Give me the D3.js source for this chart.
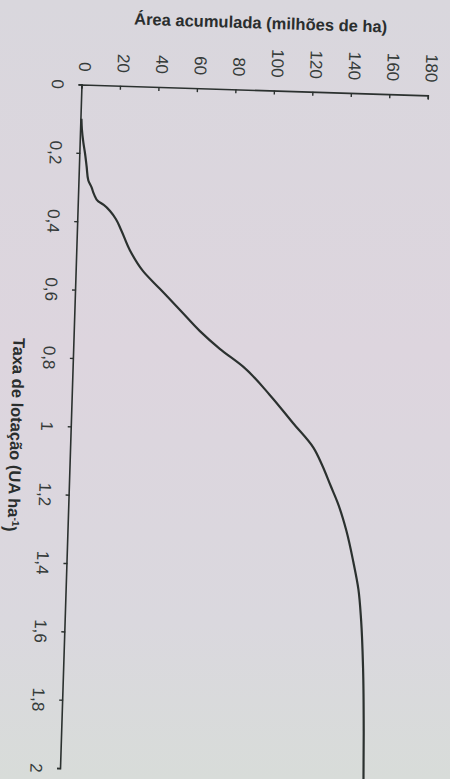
<!DOCTYPE html>
<html>
<head>
<meta charset="utf-8">
<script src="https://cdn.jsdelivr.net/npm/d3@7"></script>
<style>
  html, body { margin: 0; padding: 0; background: #dcd7de; }
  svg { display: block; }
  text { font-family: "Liberation Sans", Arial, sans-serif; }
</style>
</head>
<body>
<svg id="chart" width="450" height="779"></svg>
<script>
// ---- data ----
const taxa = [0.10, 0.13, 0.17, 0.20, 0.24, 0.28, 0.30, 0.32, 0.34, 0.35, 0.37, 0.39, 0.42, 0.48, 0.54, 0.59, 0.65, 0.71, 0.76, 0.81, 0.89, 0.97, 1.04, 1.09, 1.15, 1.20, 1.28, 1.37, 1.45, 1.54, 1.68, 1.87, 2.02];
const area = [0, 0.4, 1.4, 2.4, 3.5, 4.6, 6.4, 7.8, 10.1, 13.0, 16.8, 19.5, 22.3, 27.3, 34.5, 43.5, 54.3, 65.0, 75.6, 88.0, 102.3, 114.8, 125.8, 130.6, 135.4, 139.4, 144.3, 148.4, 151.5, 153.4, 155.2, 156.6, 157.3];
const xTickValues = [0, 0.2, 0.4, 0.6, 0.8, 1, 1.2, 1.4, 1.6, 1.8, 2];
const xTickLabels = ["0", "0,2", "0,4", "0,6", "0,8", "1", "1,2", "1,4", "1,6", "1,8", "2"];
const yTickValues = [0, 20, 40, 60, 80, 100, 120, 140, 160, 180];
const xTitle = "Taxa de lotação (UA ha";
const xTitleSup = "-1";
const yTitle = "Área acumulada (milhões de ha)";

// ---- drawing ----
const svg = d3.select("#chart");
const W = 450, H = 779;

const defs = svg.append("defs");
const grad = defs.append("linearGradient").attr("id", "bg").attr("x1", 0).attr("y1", 0).attr("x2", 0).attr("y2", 1);
grad.append("stop").attr("offset", "0%").attr("stop-color", "#d9d7dd");
grad.append("stop").attr("offset", "45%").attr("stop-color", "#ddd5de");
grad.append("stop").attr("offset", "80%").attr("stop-color", "#dad8de");
grad.append("stop").attr("offset", "100%").attr("stop-color", "#d8dcd9");
svg.append("rect").attr("width", W).attr("height", H).attr("fill", "url(#bg)");

const ink = "#2b312f";
const plotW = 684, plotH = 346.5;

const x = d3.scaleLinear().domain([0, 2]).range([0, plotW]);
const y = d3.scaleLinear().domain([0, 180]).range([0, -plotH]);

// chart is printed rotated (scan): whole group rotated ~91.8 deg
const g = svg.append("g").attr("transform", "translate(82.5,84.5) rotate(91.8)");

const xAxis = d3.axisBottom(x)
  .tickValues(xTickValues)
  .tickFormat((d, i) => xTickLabels[i])
  .tickSizeInner(4).tickSizeOuter(4).tickPadding(14.5);

const yAxis = d3.axisLeft(y)
  .tickValues(yTickValues)
  .tickFormat(d3.format("d"))
  .tickSizeInner(-4).tickSizeOuter(-4).tickPadding(13);

const gx = g.append("g").call(xAxis);
const gy = g.append("g").call(yAxis);

[gx, gy].forEach(a => {
  a.selectAll("path.domain").attr("stroke", ink).attr("stroke-width", 1.6);
  a.selectAll(".tick line").attr("stroke", ink).attr("stroke-width", 1.4);
  a.selectAll(".tick text")
    .attr("fill", "#353b39")
    .style("font-size", "17px")
    .style("font-family", "'Liberation Sans', Arial, sans-serif");
});
gy.selectAll(".tick text").attr("dy", "0.2em");

// axis titles
const xt = g.append("text")
  .attr("x", x(1.03)).attr("y", 61)
  .attr("text-anchor", "middle")
  .attr("fill", "#2a2e2e")
  .style("font-size", "16.5px").style("font-weight", "bold");
xt.append("tspan").text(xTitle);
xt.append("tspan").attr("dy", "-0.45em").style("font-size", "10px").text(xTitleSup);
xt.append("tspan").attr("dy", "0.45em").text(")");

g.append("text")
  .attr("transform", `translate(-61.5,${y(91.5)}) rotate(-90)`)
  .attr("text-anchor", "middle")
  .attr("fill", "#2a2e2e")
  .style("font-size", "16.5px").style("font-weight", "bold")
  .text(yTitle);

// curve
const line = d3.line()
  .x(d => x(d[0]))
  .y(d => y(d[1]))
  .curve(d3.curveMonotoneX);

g.append("path")
  .datum(taxa.map((t, i) => [t, area[i]]))
  .attr("d", line)
  .attr("fill", "none")
  .attr("stroke", ink)
  .attr("stroke-width", 2.2)
  .attr("stroke-linejoin", "round");
</script>
</body>
</html>
